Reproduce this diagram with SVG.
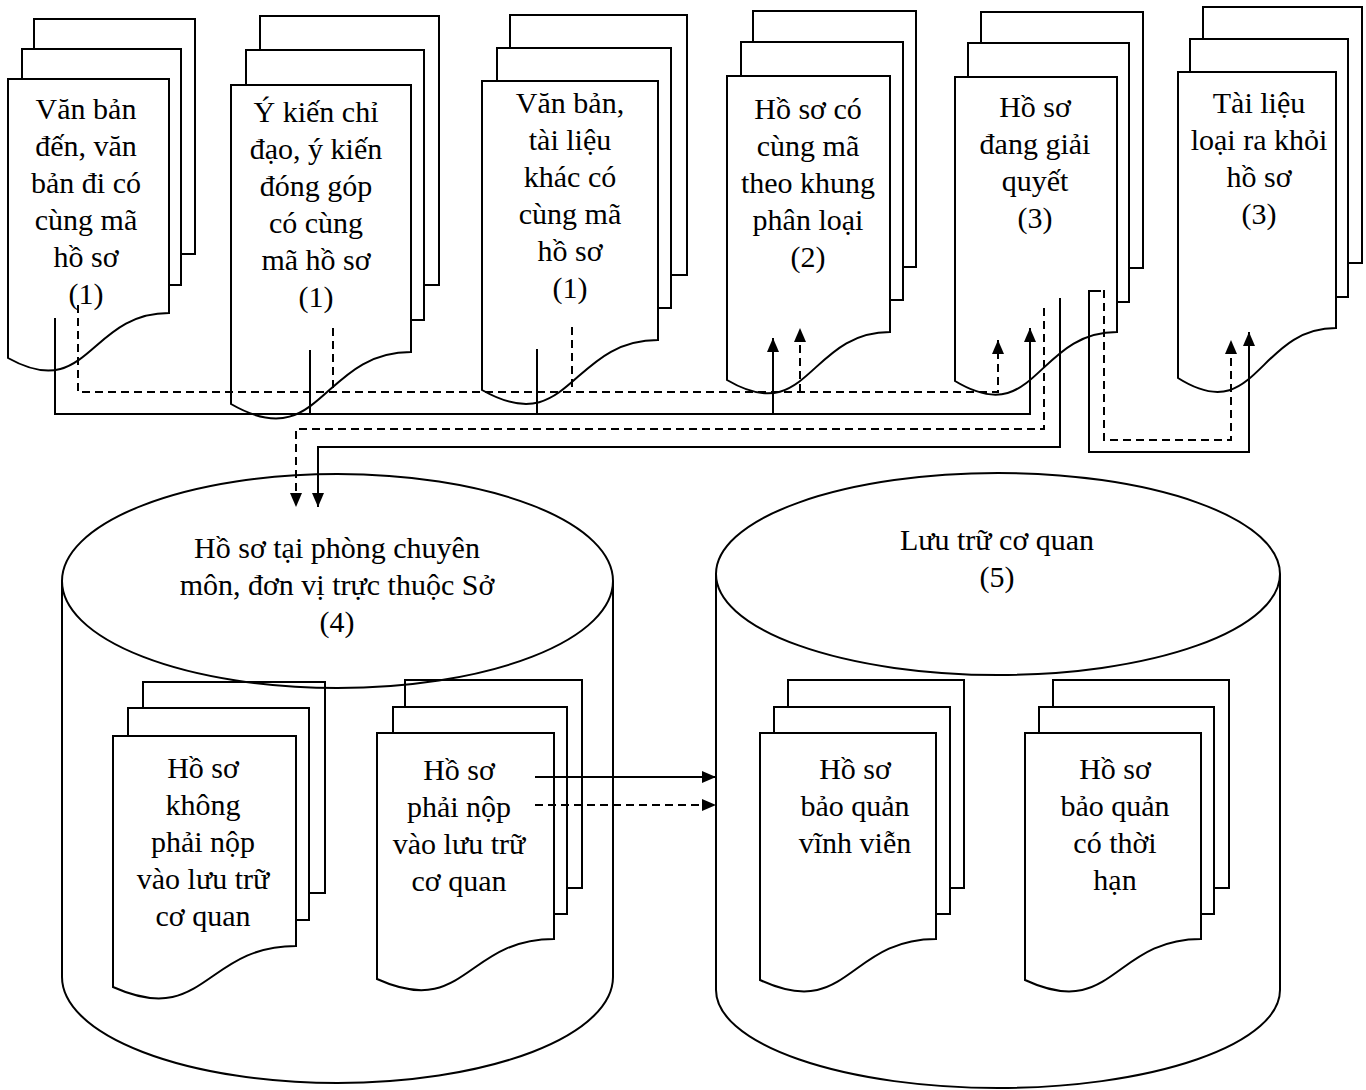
<svg xmlns="http://www.w3.org/2000/svg" width="1366" height="1090" viewBox="0 0 1366 1090">
<style>
.pg{fill:#fff;stroke:#000;stroke-width:2}
.cy{fill:#fff;stroke:#000;stroke-width:2}
.ol{fill:none;stroke:#000;stroke-width:2}
.t{font-family:"Liberation Serif","Times New Roman",serif;font-size:30px;text-anchor:middle;fill:#000}
.ln{fill:none;stroke:#000;stroke-width:2}
.ds{stroke-dasharray:8 5}
</style>
<defs>
<marker id="ah" markerUnits="userSpaceOnUse" markerWidth="14" markerHeight="12" refX="14" refY="6" orient="auto"><path d="M0,0 L14,6 L0,12 z" fill="#000"/></marker>
</defs>
<rect width="1366" height="1090" fill="#fff"/>

<g id="doc1">
<rect class="pg" x="34" y="19" width="161" height="235"/>
<rect class="pg" x="22" y="49" width="159" height="236"/>
<path class="pg" d="M8,79 H169 V313 C88.5,313 88.5,403 8,358 Z"/>
<text class="t" x="86" y="119">Văn bản</text>
<text class="t" x="86" y="156">đến, văn</text>
<text class="t" x="86" y="193">bản đi có</text>
<text class="t" x="86" y="230">cùng mã</text>
<text class="t" x="86" y="267">hồ sơ</text>
<text class="t" x="86" y="304">(1)</text>
</g>

<g id="doc2">
<rect class="pg" x="260" y="16" width="179" height="269"/>
<rect class="pg" x="246" y="50" width="178" height="270"/>
<path class="pg" d="M231,85 H411 V352 C321,352 321,456 231,404 Z"/>
<text class="t" x="316" y="122">Ý kiến chỉ</text>
<text class="t" x="316" y="159">đạo, ý kiến</text>
<text class="t" x="316" y="196">đóng góp</text>
<text class="t" x="316" y="233">có cùng</text>
<text class="t" x="316" y="270">mã hồ sơ</text>
<text class="t" x="316" y="307">(1)</text>
</g>

<g id="doc3">
<rect class="pg" x="510" y="15" width="177" height="260"/>
<rect class="pg" x="497" y="48" width="174" height="260"/>
<path class="pg" d="M482,81 H658 V340 C570,340 570,440 482,390 Z"/>
<text class="t" x="570" y="113">Văn bản,</text>
<text class="t" x="570" y="150">tài liệu</text>
<text class="t" x="570" y="187">khác có</text>
<text class="t" x="570" y="224">cùng mã</text>
<text class="t" x="570" y="261">hồ sơ</text>
<text class="t" x="570" y="298">(1)</text>
</g>

<g id="doc4">
<rect class="pg" x="753" y="11" width="163" height="256"/>
<rect class="pg" x="741" y="42" width="162" height="258"/>
<path class="pg" d="M727,76 H890 V332 C808.5,332 808.5,428 727,380 Z"/>
<text class="t" x="808" y="119">Hồ sơ có</text>
<text class="t" x="808" y="156">cùng mã</text>
<text class="t" x="808" y="193">theo khung</text>
<text class="t" x="808" y="230">phân loại</text>
<text class="t" x="808" y="267">(2)</text>
</g>

<g id="doc5">
<rect class="pg" x="981" y="12" width="162" height="256"/>
<rect class="pg" x="968" y="43" width="161" height="259"/>
<path class="pg" d="M955,77 H1117 V332 C1036,332 1036,430 955,381 Z"/>
<text class="t" x="1035" y="117">Hồ sơ</text>
<text class="t" x="1035" y="154">đang giải</text>
<text class="t" x="1035" y="191">quyết</text>
<text class="t" x="1035" y="228">(3)</text>
</g>

<g id="doc6">
<rect class="pg" x="1203" y="7" width="159" height="256"/>
<rect class="pg" x="1190" y="39" width="158" height="258"/>
<path class="pg" d="M1178,72 H1336 V328 C1257,328 1257,428 1178,378 Z"/>
<text class="t" x="1259" y="113">Tài liệu</text>
<text class="t" x="1259" y="150">loại ra khỏi</text>
<text class="t" x="1259" y="187">hồ sơ</text>
<text class="t" x="1259" y="224">(3)</text>
</g>

<g id="cyl-left">
<path class="cy" d="M62,581 V977 A275.5,106 0 0 0 613,977 V581"/>
<g id="doc-b1">
<rect class="pg" x="143" y="682" width="182" height="211"/>
<rect class="pg" x="128" y="708" width="181" height="212"/>
<path class="pg" d="M113,736 H296 V946 C204.5,946 204.5,1028 113,987 Z"/>
<text class="t" x="203" y="778">Hồ sơ</text>
<text class="t" x="203" y="815">không</text>
<text class="t" x="203" y="852">phải nộp</text>
<text class="t" x="203" y="889">vào lưu trữ</text>
<text class="t" x="203" y="926">cơ quan</text>
</g>
<g id="doc-b2">
<rect class="pg" x="405" y="680" width="177" height="208"/>
<rect class="pg" x="393" y="707" width="174" height="207"/>
<path class="pg" d="M377,733 H554 V939 C465.5,939 465.5,1019 377,979 Z"/>
<text class="t" x="459" y="780">Hồ sơ</text>
<text class="t" x="459" y="817">phải nộp</text>
<text class="t" x="459" y="854">vào lưu trữ</text>
<text class="t" x="459" y="891">cơ quan</text>
</g>
<ellipse class="ol" cx="337.5" cy="581" rx="275.5" ry="107"/>
<text class="t" x="337" y="558">Hồ sơ tại phòng chuyên</text>
<text class="t" x="337" y="595">môn, đơn vị trực thuộc Sở</text>
<text class="t" x="337" y="632">(4)</text>
</g>

<g id="cyl-right">
<path class="cy" d="M716,574 V990 A282,98 0 0 0 1280,990 V574"/>
<g id="doc-b3">
<rect class="pg" x="788" y="680" width="176" height="208"/>
<rect class="pg" x="774" y="707" width="176" height="207"/>
<path class="pg" d="M760,733 H936 V939 C848,939 848,1021 760,980 Z"/>
<text class="t" x="855" y="779">Hồ sơ</text>
<text class="t" x="855" y="816">bảo quản</text>
<text class="t" x="855" y="853">vĩnh viễn</text>
</g>
<g id="doc-b4">
<rect class="pg" x="1053" y="680" width="176" height="208"/>
<rect class="pg" x="1039" y="707" width="175" height="207"/>
<path class="pg" d="M1025,733 H1201 V939 C1113,939 1113,1021 1025,980 Z"/>
<text class="t" x="1115" y="779">Hồ sơ</text>
<text class="t" x="1115" y="816">bảo quản</text>
<text class="t" x="1115" y="853">có thời</text>
<text class="t" x="1115" y="890">hạn</text>
</g>
<ellipse class="ol" cx="998" cy="574" rx="282" ry="101"/>
<text class="t" x="997" y="550">Lưu trữ cơ quan</text>
<text class="t" x="997" y="587">(5)</text>
</g>

<g id="connectors">
<path class="ln" d="M55,318 V414 H1030 V328" marker-end="url(#ah)"/>
<path class="ln" d="M310,350 V414"/>
<path class="ln" d="M537,349 V414"/>
<path class="ln" d="M773,414 V338" marker-end="url(#ah)"/>
<path class="ln ds" d="M78,305 V392 H998 V340" marker-end="url(#ah)"/>
<path class="ln ds" d="M333,328 V392"/>
<path class="ln ds" d="M572,327 V392"/>
<path class="ln ds" d="M800,392 V328" marker-end="url(#ah)"/>
<path class="ln ds" d="M1044,308 V429 H296 V507" marker-end="url(#ah)"/>
<path class="ln" d="M1060,298 V447 H318 V507" marker-end="url(#ah)"/>
<path class="ln" d="M1101,291 H1089 V452 H1249 V332" marker-end="url(#ah)"/>
<path class="ln ds" d="M1104,290 V440 H1231 V340" marker-end="url(#ah)"/>
<path class="ln" d="M535,777 H716" marker-end="url(#ah)"/>
<path class="ln ds" d="M535,805 H716" marker-end="url(#ah)"/>
</g>
</svg>
